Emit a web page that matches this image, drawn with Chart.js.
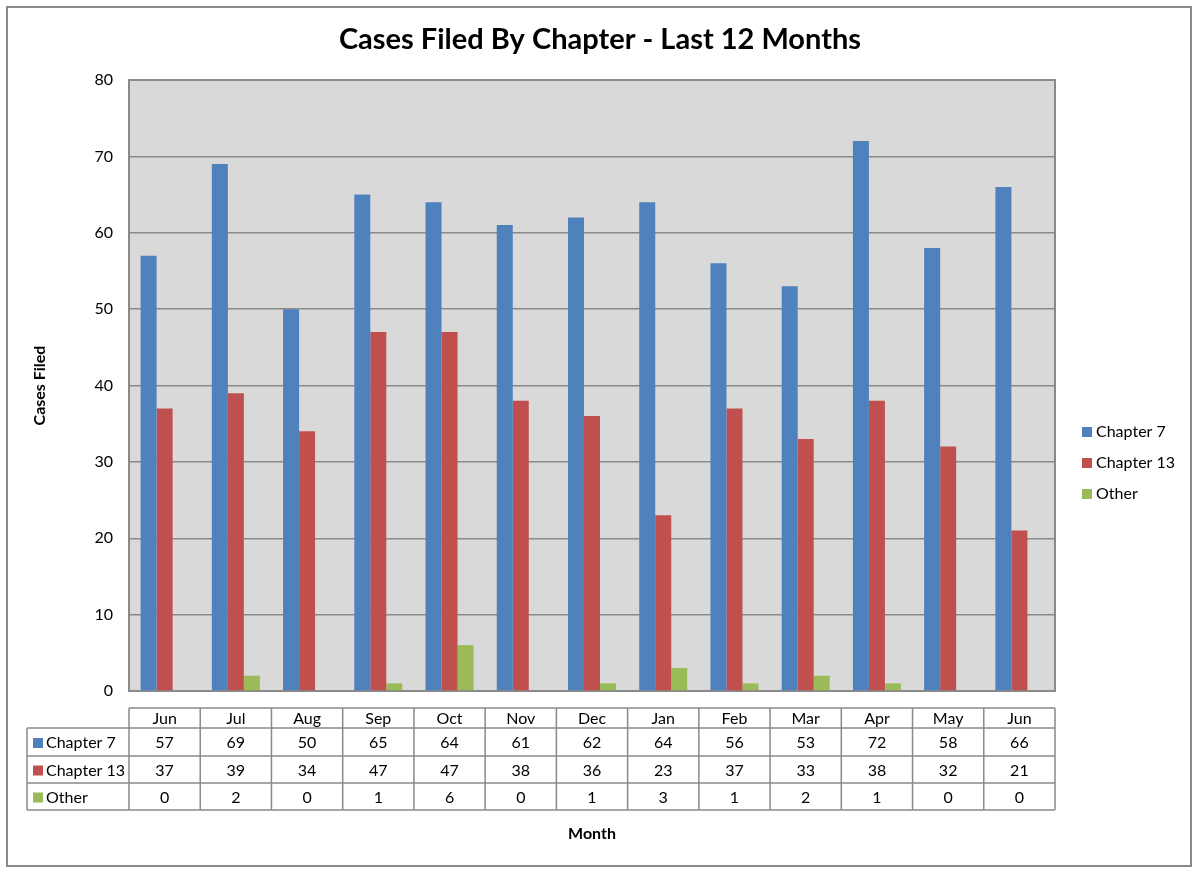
<!DOCTYPE html>
<html>
<head>
<meta charset="utf-8">
<title>Cases Filed By Chapter</title>
<script src="https://cdn.jsdelivr.net/npm/chart.js@4/dist/chart.umd.min.js"></script>
<style>
  html, body { margin: 0; padding: 0; background: #fff; }
  canvas { display: block; }
</style>
</head>
<body>
<canvas id="grafica" width="1200" height="874"></canvas>
<script>
// data
var meses = ['Jun', 'Jul', 'Aug', 'Sep', 'Oct', 'Nov', 'Dec', 'Jan', 'Feb', 'Mar', 'Apr', 'May', 'Jun'];
var chapter7 = [57, 69, 50, 65, 64, 61, 62, 64, 56, 53, 72, 58, 66];
var chapter13 = [37, 39, 34, 47, 47, 38, 36, 23, 37, 33, 38, 32, 21];
var otros = [0, 2, 0, 1, 6, 0, 1, 3, 1, 2, 1, 0, 0];
var yMax = 80;
var yPaso = 10;

var titulo = 'Cases Filed By Chapter - Last 12 Months';
var tituloY = 'Cases Filed';
var tituloX = 'Month';
var fuente = 'Lato, "Open Sans", sans-serif';
var gris = '#8a8a8a';

var extras = {
    id: 'extras',
    beforeDraw: function(chart) {
        var ctx = chart.ctx;
        var area = chart.chartArea;
        ctx.save();
        ctx.fillStyle = '#fff';
        ctx.fillRect(0, 0, chart.width, chart.height);
        // outer frame
        ctx.strokeStyle = gris;
        ctx.lineWidth = 2;
        ctx.strokeRect(7, 7, 1184, 859);
        // plot background
        ctx.fillStyle = '#d9d9d9';
        ctx.fillRect(area.left, area.top, area.right - area.left, area.bottom - area.top);
        ctx.restore();
    },
    beforeDatasetsDraw: function(chart) {
        var ctx = chart.ctx;
        var area = chart.chartArea;
        ctx.save();
        ctx.strokeStyle = gris;
        ctx.lineWidth = 2;
        ctx.strokeRect(area.left, area.top, area.right - area.left, area.bottom - area.top);
        ctx.restore();
    },
    afterDraw: function(chart) {
        var ctx = chart.ctx;
        var area = chart.chartArea;
        var x = chart.scales.x;
        var n = meses.length;
        var ancho = (area.right - area.left) / n;
        ctx.save();

        // title
        ctx.fillStyle = '#000';
        ctx.textAlign = 'center';
        ctx.textBaseline = 'middle';
        ctx.font = 'bold 29px ' + fuente;
        ctx.fillText(titulo, 600, 40);

        // axis titles
        ctx.font = 'bold 16px ' + fuente;
        ctx.fillText(tituloX, (area.left + area.right) / 2, 834);
        ctx.save();
        ctx.translate(40, (area.top + area.bottom) / 2);
        ctx.rotate(-Math.PI / 2);
        ctx.fillText(tituloY, 0, 0);
        ctx.restore();

        // data table
        var filas = [708, 728, 756, 783, 810];
        var izq = 27;
        ctx.strokeStyle = gris;
        ctx.lineWidth = 1.5;
        ctx.beginPath();
        ctx.moveTo(area.left, filas[0]); ctx.lineTo(area.right, filas[0]);
        for (var r = 1; r < filas.length; r++) {
            ctx.moveTo(izq, filas[r]); ctx.lineTo(area.right, filas[r]);
        }
        ctx.moveTo(izq, filas[1]); ctx.lineTo(izq, filas[4]);
        for (var c = 0; c <= n; c++) {
            var xx = area.left + c * ancho;
            ctx.moveTo(xx, filas[0]); ctx.lineTo(xx, filas[4]);
        }
        ctx.stroke();

        ctx.font = '16px ' + fuente;
        ctx.fillStyle = '#000';
        ctx.textAlign = 'center';
        meses.forEach(function(m, i) {
            ctx.fillText(m, x.getPixelForValue(i), (filas[0] + filas[1]) / 2 + 1);
        });
        chart.data.datasets.forEach(function(ds, r) {
            var yc = (filas[r + 1] + filas[r + 2]) / 2 + 1;
            ctx.fillStyle = ds.backgroundColor;
            ctx.fillRect(izq + 6, yc - 5, 10, 10);
            ctx.fillStyle = '#000';
            ctx.textAlign = 'left';
            ctx.fillText(ds.label, izq + 19, yc);
            ctx.textAlign = 'center';
            ds.data.forEach(function(v, i) {
                ctx.fillText(String(v), x.getPixelForValue(i), yc);
            });
        });

        // legend
        var ly = 432;
        chart.data.datasets.forEach(function(ds, r) {
            var yc = ly + r * 31;
            ctx.fillStyle = ds.backgroundColor;
            ctx.fillRect(1082, yc - 5, 10, 10);
            ctx.fillStyle = '#000';
            ctx.textAlign = 'left';
            ctx.fillText(ds.label, 1096, yc);
        });
        ctx.restore();
    }
};

var ctx = document.getElementById('grafica').getContext('2d');
var grafica = new Chart(ctx, {
    type: 'bar',
    data: {
        labels: meses,
        datasets: [
            { label: 'Chapter 7', data: chapter7, backgroundColor: '#4f81bd' },
            { label: 'Chapter 13', data: chapter13, backgroundColor: '#c0504d' },
            { label: 'Other', data: otros, backgroundColor: '#9bbb59' }
        ]
    },
    options: {
        responsive: false,
        animation: false,
        layout: { padding: { left: 0, right: 145, top: 80, bottom: 183 } },
        datasets: {
            bar: { categoryPercentage: 0.674, barPercentage: 1.0, borderWidth: 0 }
        },
        plugins: {
            legend: { display: false },
            title: { display: false },
            tooltip: { enabled: false }
        },
        scales: {
            x: { display: false },
            y: {
                min: 0,
                max: yMax,
                afterFit: function(scale) { scale.width = 129; },
                ticks: {
                    stepSize: yPaso,
                    padding: 16,
                    color: '#000',
                    font: { family: fuente, size: 16 }
                },
                grid: { color: gris, lineWidth: 1.5, drawTicks: false },
                border: { display: false }
            }
        }
    },
    plugins: [extras]
});
</script>
</body>
</html>
